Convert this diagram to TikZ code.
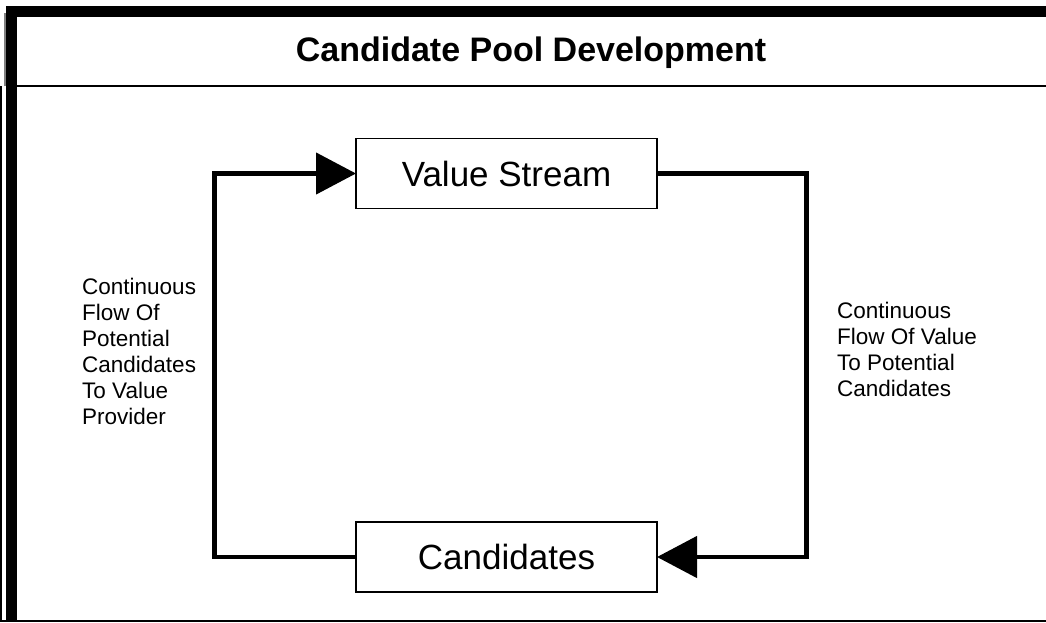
\documentclass[tikz,border=0pt]{standalone}
\usepackage{fontspec}
\setmainfont{Liberation Sans}
\usetikzlibrary{arrows.meta}
\begin{document}
\begin{tikzpicture}[x=1pt,y=-1pt,
  box/.style={draw, line width=1.3pt, minimum width=301pt, minimum height=70pt, inner sep=0pt, outer sep=0pt, font=\fontsize{35}{40}\selectfont},
  flow/.style={line width=4.5pt},
  tip/.style={-{Triangle[length=40pt 0 0,width=41pt 0 0]}},
  lbl/.style={anchor=north west, inner sep=0pt, align=left, font=\fontsize{22.5}{26}\selectfont},
  ttl/.style={anchor=base, inner sep=0pt, font=\bfseries\fontsize{34}{40}\selectfont}]
\useasboundingbox (0,0) rectangle (1046,622);
% frame
\fill (6,6) rectangle (1046,17);
\fill (6,6) rectangle (17,622);
\fill (0,619.5) rectangle (1046,622);
\fill (0,86) rectangle (2,622);
\draw[gray, line width=1.2pt] (5,13) -- (5,86);
\draw[line width=2pt] (17,86) -- (1046,86);
\node[ttl] (title) at (531,61.5) {Candidate Pool Development};
% boxes
\node[box] (vs) at (506.5,173.5) {Value Stream};
\node[box] (cand) at (506.5,557) {Candidates};
\coordinate (lc) at (214.5,0);
\coordinate (rc) at (806.5,0);
\draw[flow, tip] (cand.west) -| (lc |- vs.west) -- (vs.west);
\draw[flow, tip] (vs.east) -| (rc |- cand.east) -- (cand.east);
% labels
\node[lbl] (ll) at (82,277.5) {Continuous\\Flow Of\\Potential\\Candidates\\To Value\\Provider};
\node[lbl] (rl) at (837,302) {Continuous\\Flow Of Value\\To Potential\\Candidates};
\end{tikzpicture}
\end{document}
